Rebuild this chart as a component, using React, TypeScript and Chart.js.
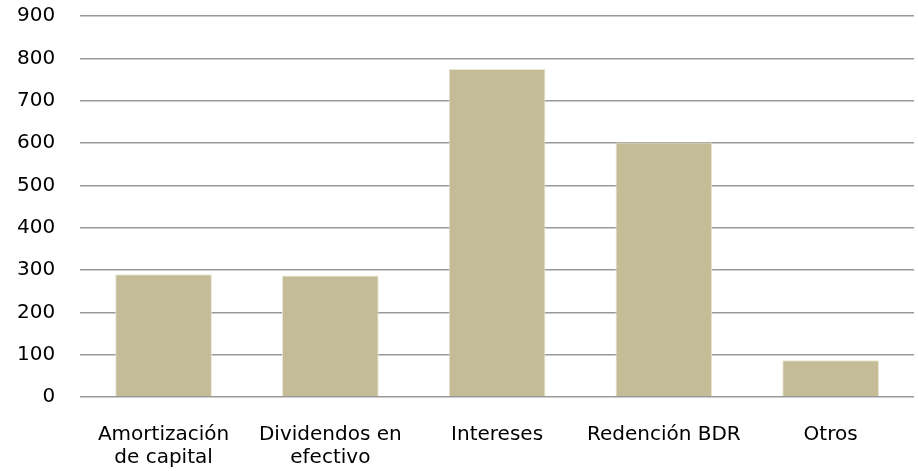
import React, { useEffect, useRef } from "react";
import { Chart, registerables } from "chart.js";

Chart.register(...registerables);

const categories: (string | string[])[] = [
  ["Amortización", "de capital"],
  ["Dividendos en", "efectivo"],
  "Intereses",
  "Redención BDR",
  "Otros",
];
const values = [290, 287, 775, 601, 87];
const yMin = 0;
const yMax = 900;
const yStep = 100;

export default function App() {
  const ref = useRef<HTMLCanvasElement | null>(null);
  useEffect(() => {
    document.body.style.margin = "0";
    const ctx = ref.current!;
    const chart = new Chart(ctx, {
      type: "bar",
      data: {
        labels: categories,
        datasets: [
          {
            data: values,
            backgroundColor: "#c4bc96",
            borderColor: "#ebe6d3",
            borderWidth: 1,
            categoryPercentage: 1,
            barPercentage: 0.58,
          },
        ],
      },
      options: {
        animation: false,
        responsive: false,
        maintainAspectRatio: false,
        layout: { padding: { top: 4, right: 4, left: 13, bottom: 0 } },
        plugins: { legend: { display: false }, tooltip: { enabled: false } },
        scales: {
          x: {
            grid: {
              display: true,
              drawOnChartArea: false,
              drawTicks: true,
              tickLength: 24,
              color: "rgba(0,0,0,0)",
              tickColor: "rgba(0,0,0,0)",
            },
            border: { display: false },
            ticks: {
              color: "#000",
              font: { family: "DejaVu Sans", size: 20, lineHeight: 1.15 },
              padding: 2,
              maxRotation: 0,
              autoSkip: false,
            },
          },
          y: {
            min: yMin,
            max: yMax,
            border: { display: false },
            grid: {
              color: "#999999",
              lineWidth: 1.5,
              drawTicks: true,
              tickLength: 21,
              tickColor: "rgba(0,0,0,0)",
            },
            ticks: {
              stepSize: yStep,
              color: "#000",
              font: { family: "DejaVu Sans", size: 20 },
              padding: 4,
            },
          },
        },
      },
    });
    return () => chart.destroy();
  }, []);
  return (
    <div style={{ width: 918, height: 471 }}>
      <canvas ref={ref} width={918} height={471} style={{ width: 918, height: 471 }} />
    </div>
  );
}
